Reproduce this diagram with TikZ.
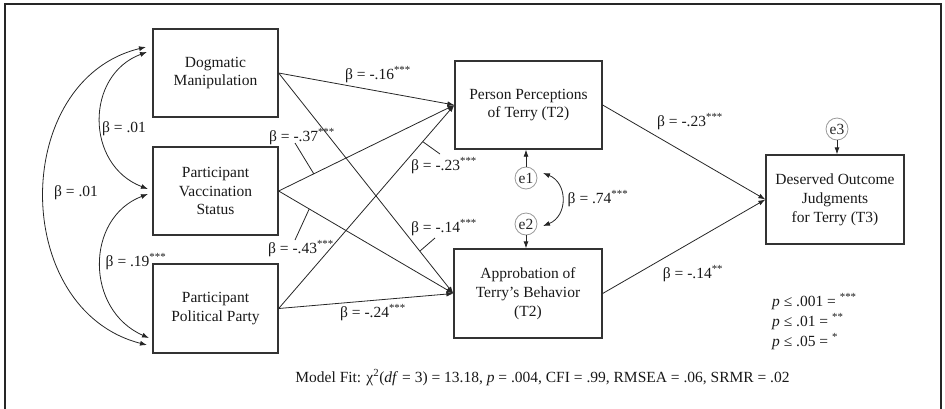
\documentclass[tikz,border=0pt]{standalone}
\usepackage{fontspec}
\setmainfont{Liberation Serif}
\usetikzlibrary{arrows.meta,calc}
\newcommand{\stars}[1]{\textsuperscript{#1}}
\begin{document}
\begin{tikzpicture}[x=1pt,y=-1pt,
  font=\fontsize{15.5}{18.8}\selectfont,
  box/.style={draw=black!80,line width=1.3pt,inner sep=0pt,align=center,text=black!90},
  err/.style={draw=black!40,circle,line width=0.8pt,minimum size=22pt,inner sep=0pt,text=black!85},
  pth/.style={draw=black!85,line width=0.8pt,-{Latex[length=7pt,width=5pt]}},
  dbl/.style={draw=black!85,line width=0.8pt,{Latex[length=7pt,width=5pt]}-{Latex[length=7pt,width=5pt]}},
  lbl/.style={inner sep=0pt,anchor=base,text=black!90},
  lead/.style={draw=black!85,line width=0.8pt}]
\useasboundingbox (0,0) rectangle (945,408);
\draw[black!85,line width=1.3pt] (5,4) rectangle (941,414);

% boxes
\node[box,minimum width=125pt,minimum height=88pt] (dog) at (215.5,73) {Dogmatic\\Manipulation};
\node[box,minimum width=125pt,minimum height=88pt] (vac) at (215.5,191) {Participant\\Vaccination\\Status};
\node[box,minimum width=125pt,minimum height=89pt] (pol) at (215.5,308.5) {Participant\\Political Party};
\node[box,minimum width=147pt,minimum height=88pt] (pp) at (528.5,105) {Person Perceptions\\of Terry (T2)};
\node[box,minimum width=148pt,minimum height=89pt] (app) at (528,293.5) {Approbation of\\Terry’s Behavior\\(T2)};
\node[box,minimum width=138pt,minimum height=89pt] (des) at (835,199.5) {Deserved Outcome\\Judgments\\for Terry (T3)};

% error terms
\node[err] (e1) at (526,178) {e1};
\node[err] (e2) at (526,224) {e2};
\node[err] (e3) at (837,129) {e3};
\draw[pth] (e1) -- (pp.south -| e1);
\draw[pth] (e2) -- (app.north -| e2);
\draw[pth] (e3) -- (des.north -| e3);

% structural paths
\draw[pth] (dog.east) -- (pp.west);
\draw[pth] (dog.east) -- coordinate[pos=0.808] (c14) (app.west);
\draw[pth] (vac.east) -- coordinate[pos=0.2] (c37) (pp.west);
\draw[pth] (vac.east) -- coordinate[pos=0.175] (c43) (app.west);
\draw[pth] (pol.east) -- coordinate[pos=0.82] (c23) (pp.west);
\draw[pth] (pol.east) -- (app.west);
\draw[pth] (pp.east) -- (des.west);
\draw[pth] (app.east) -- (des.west);

% labels
\node[lbl] (l16) at (378,79) {β = -.16\stars{***}};
\node[lbl] (l37) at (302,141) {β = -.37\stars{***}};
\node[lbl] (l43) at (301,253) {β = -.43\stars{***}};
\node[lbl] (l23) at (444,170) {β = -.23\stars{***}};
\node[lbl] (l14) at (444,232) {β = -.14\stars{***}};
\node[lbl] (l24) at (373,317) {β = -.24\stars{***}};
\node[lbl] (r23) at (690,126) {β = -.23\stars{***}};
\node[lbl] (r14) at (693,278) {β = -.14\stars{**}};

% leader lines
\coordinate (k37) at (295,143);
\coordinate (k43) at (295,240);
\coordinate (k23) at (440,154);
\coordinate (k14) at (435,238);
\draw[lead] (k37) -- (c37);
\draw[lead] (k43) -- (c43);
\draw[lead] (k23) -- (c23);
\draw[lead] (k14) -- (c14);

% covariances on the left
\coordinate (dA) at (146,47);
\coordinate (dB) at (147,52);
\coordinate (vA) at (148,189);
\coordinate (vB) at (148,194);
\coordinate (pA) at (149,338);
\coordinate (pB) at (147,345);
\draw[dbl] (dB) .. controls (85,75) and (85,165) .. (vA);
\draw[dbl] (vB) .. controls (85,218) and (85,310) .. (pA);
\draw[dbl] (dA) .. controls (10,80) and (10,310) .. (pB);
\node[lbl] (c01a) at (124,132) {β = .01};
\node[lbl] (c01b) at (76,196) {β = .01};
\node[lbl] (c19) at (136,266) {β = .19\stars{***}};

% e1 <-> e2
\coordinate (eA) at (543,173);
\coordinate (eB) at (543,226);
\draw[dbl] (eA) .. controls (568,183) and (568,216) .. (eB);
\node[lbl] (c74) at (598,203) {β = .74\stars{***}};

% legend
\node[inner sep=0pt,anchor=base west,text=black!90] (p1) at (772,306) {\textit{p} ≤ .001 = \stars{***}};
\node[inner sep=0pt,anchor=base west,text=black!90] (p2) at (772,326) {\textit{p} ≤ .01 = \stars{**}};
\node[inner sep=0pt,anchor=base west,text=black!90] (p3) at (772,346) {\textit{p} ≤ .05 = \stars{*}};

% model fit
\node[lbl] (fit) at (542.5,382) {Model Fit: χ\textsuperscript{2}(\textit{df} = 3) = 13.18, \textit{p} = .004, CFI = .99, RMSEA = .06, SRMR = .02};
\end{tikzpicture}
\end{document}
